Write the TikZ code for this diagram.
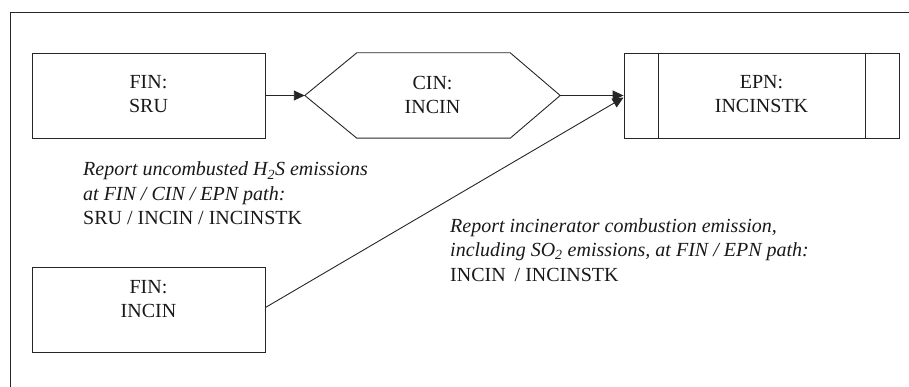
\documentclass[tikz,border=0pt]{standalone}
\usepackage{fontspec}
\setmainfont{Liberation Serif}
\usetikzlibrary{arrows.meta}
\begin{document}
\begin{tikzpicture}[x=1pt,y=-1pt,
  boxline/.style={draw=black!85, line width=0.9pt},
  box/.style={boxline, minimum width=233pt, minimum height=85pt, inner sep=0pt},
  lbl/.style={align=center, font=\fontsize{20}{24}\selectfont, text=black!90},
  note/.style={align=left, anchor=base west, inner sep=0pt, font=\fontsize{20}{24.5}\selectfont, text=black!90},
  conn/.style={draw=black!85, line width=0.9pt, -{Triangle[length=11pt,width=10pt]}}]
\useasboundingbox (0,0) rectangle (909,387);
\draw[boxline] (909,12) -- (10,12) -- (10,387);

\node[box, label={[lbl,yshift=1pt]center:FIN:\\SRU}] (sru) at (148.5,95.5) {};
\node[minimum width=255pt, minimum height=85pt, inner sep=0pt,
      label={[lbl,yshift=1pt]center:CIN:\\INCIN}] (cin) at (432.5,95.5) {};
\draw[boxline] (cin.west) -- ([xshift=52pt]cin.north west) -- ([xshift=-50pt]cin.north east)
  -- (cin.east) -- ([xshift=-50pt]cin.south east) -- ([xshift=52pt]cin.south west) -- cycle;
\node[box, minimum width=275pt, label={[lbl,yshift=1pt]center:EPN:\\INCINSTK}] (epn) at (761.5,95.5) {};
\draw[boxline] ([xshift=35pt]epn.north west) -- ([xshift=35pt]epn.south west);
\draw[boxline] ([xshift=-34pt]epn.north east) -- ([xshift=-34pt]epn.south east);
\node[box, label={[lbl,yshift=10pt]center:FIN:\\INCIN}] (incin) at (148.5,309.5) {};

\draw[conn] (sru.east) -- (cin.west);
\draw[conn] (cin.east) -- (epn.west);
\draw[conn] ([yshift=2pt]incin.east) -- ([yshift=-2pt]epn.west);

\node[note] (n1) at (83,225) {\textit{Report uncombusted H\textsubscript{2}S emissions}\\\textit{at FIN / CIN / EPN path:}\\SRU / INCIN / INCINSTK};
\node[note] (n2) at (450,281) {\textit{Report incinerator combustion emission,}\\\textit{including SO\textsubscript{2} emissions, at FIN / EPN path:}\\INCIN\hspace{4pt} / INCINSTK};
\end{tikzpicture}
\end{document}
